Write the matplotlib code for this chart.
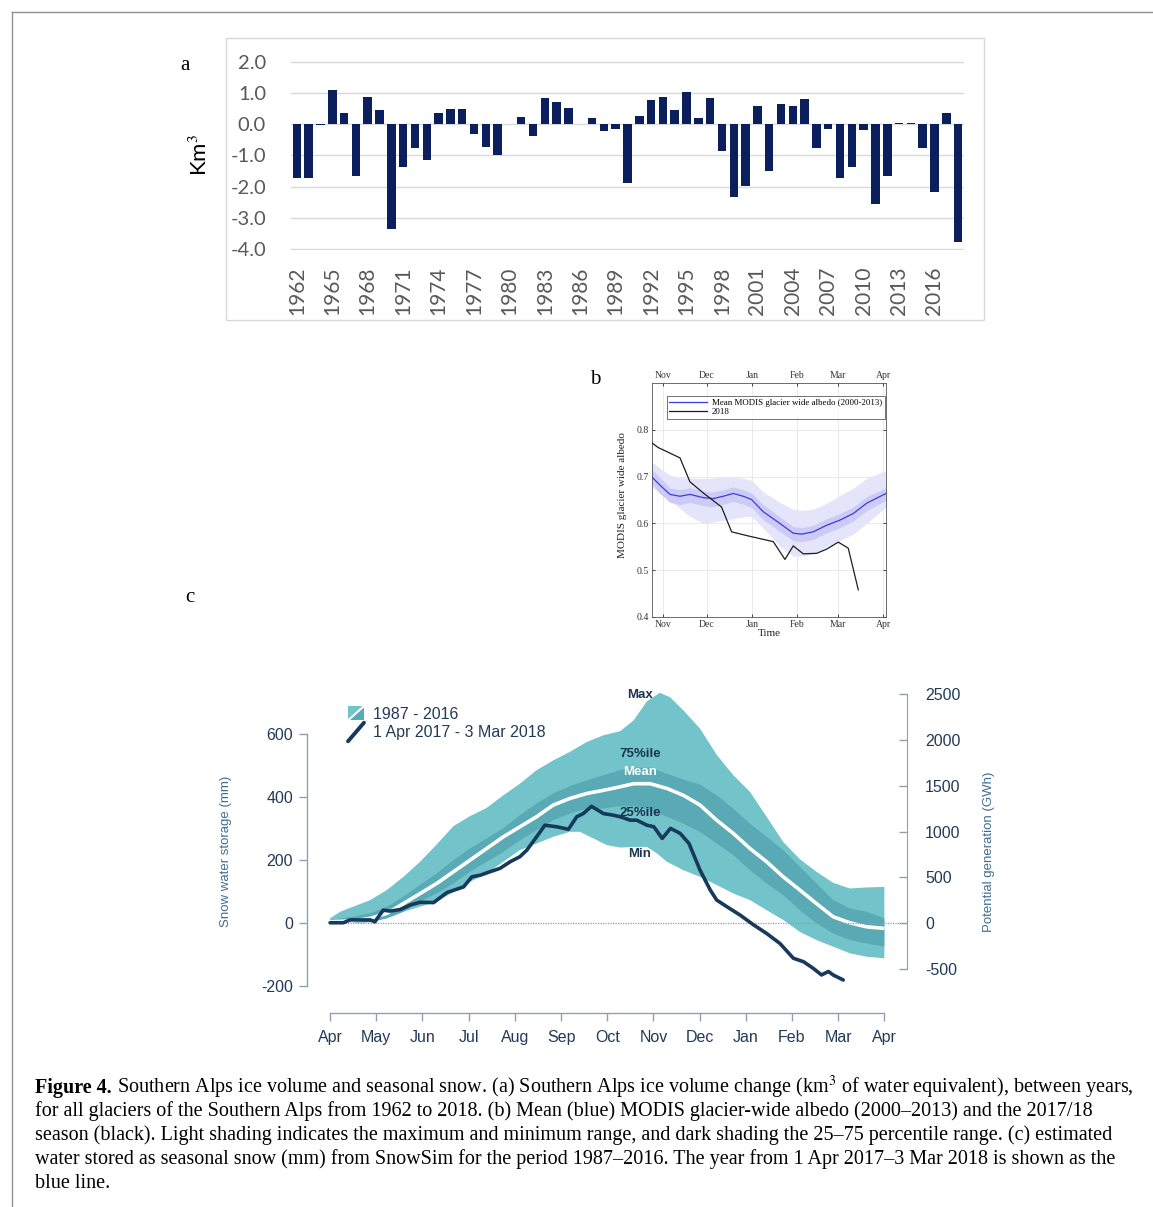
import numpy as np
import matplotlib
matplotlib.use('Agg')
import matplotlib.pyplot as plt
from matplotlib.patches import Rectangle, Polygon
from matplotlib.lines import Line2D
from matplotlib.legend_handler import HandlerBase

plt.rcParams['axes.unicode_minus'] = False
plt.rcParams['mathtext.fontset'] = 'stix'

# ---------------- Panel a data ----------------
years = list(range(1962, 2019))
ice_change = [
    -1.73, -1.73, -0.03, 1.10, 0.36, -1.65, 0.87, 0.44, -3.35, -1.36,
    -0.77, -1.14, 0.35, 0.50, 0.50, -0.32, -0.72, -0.98, 0.01, 0.24,
    -0.39, 0.83, 0.71, 0.52, 0.02, 0.20, -0.22, -0.14, -1.88, 0.25,
    0.77, 0.87, 0.45, 1.04, 0.20, 0.84, -0.85, -2.34, -1.99, 0.59,
    -1.51, 0.64, 0.59, 0.80, -0.77, -0.16, -1.73, -1.36, -0.18, -2.55,
    -1.66, 0.05, 0.05, -0.77, -2.18, 0.35, -3.78]
a_yticks = [2.0, 1.0, 0.0, -1.0, -2.0, -3.0, -4.0]

# ---------------- Panel b data (days from 1 Nov) ----------------
b_months = ['Nov', 'Dec', 'Jan', 'Feb', 'Mar', 'Apr']
b_month_days = [0, 30, 61, 92, 120, 151]
b_days = [-7.5, -2.1, 4.8, 11.7, 18.5, 27.7, 34.5, 41.4, 48.2, 55.1, 60.8,
          68.8, 80.2, 89.4, 95.1, 103.1, 112.3, 121.4, 130.5, 139.7, 153]
b_mean = [0.699, 0.682, 0.662, 0.658, 0.662, 0.655, 0.653, 0.658, 0.664, 0.658, 0.651,
          0.625, 0.600, 0.579, 0.577, 0.582, 0.596, 0.607, 0.621, 0.643, 0.664]
b_q75 = [0.715, 0.698, 0.676, 0.672, 0.676, 0.669, 0.667, 0.672, 0.678, 0.672, 0.665,
         0.640, 0.614, 0.593, 0.591, 0.596, 0.610, 0.621, 0.635, 0.657, 0.676]
b_q25 = [0.684, 0.664, 0.645, 0.640, 0.645, 0.638, 0.636, 0.641, 0.647, 0.641, 0.634,
         0.608, 0.583, 0.563, 0.561, 0.566, 0.580, 0.591, 0.605, 0.627, 0.650]
b_max = [0.731, 0.718, 0.703, 0.698, 0.697, 0.696, 0.697, 0.699, 0.699, 0.696, 0.692,
         0.667, 0.645, 0.630, 0.628, 0.630, 0.643, 0.660, 0.675, 0.696, 0.713]
b_min = [0.678, 0.664, 0.650, 0.632, 0.615, 0.600, 0.603, 0.607, 0.610, 0.614, 0.615,
         0.590, 0.552, 0.530, 0.530, 0.535, 0.550, 0.563, 0.577, 0.600, 0.635]
b18_days = [-7.5, -3.2, 11.7, 18.5, 27.7, 40.2, 47.1, 57.4, 75.7, 83.7, 89.4,
            96.2, 105.4, 112.3, 120.3, 127.1, 134.0]
b18_albedo = [0.772, 0.762, 0.740, 0.689, 0.665, 0.635, 0.582, 0.574, 0.561, 0.523, 0.552,
              0.535, 0.536, 0.545, 0.560, 0.547, 0.458]

# ---------------- Panel c data (months from 1 Apr, mm) ----------------
c_months = ['Apr', 'May', 'Jun', 'Jul', 'Aug', 'Sep', 'Oct', 'Nov', 'Dec',
            'Jan', 'Feb', 'Mar', 'Apr']
max_x = [0, 0.22, 0.5, 0.87, 1.23, 1.59, 1.95, 2.31, 2.67, 3.03, 3.39, 3.75, 4.11,
         4.47, 4.83, 5.19, 5.56, 5.92, 6.28, 6.57, 6.86, 7.14, 7.36, 7.65, 8.01,
         8.37, 8.73, 9.09, 9.45, 9.81, 10.17, 10.53, 10.89, 11.25, 11.61, 12.0]
max_y = [15, 36, 52, 73, 105, 147, 195, 250, 308, 340, 366, 406, 443, 486, 517,
         544, 576, 597, 610, 644, 705, 732, 718, 676, 618, 535, 470, 417, 338,
         258, 203, 163, 128, 110, 113, 115]
min_x = [0, 0.5, 0.87, 1.23, 1.59, 1.95, 2.31, 2.67, 3.03, 3.39, 3.75, 4.11, 4.47,
         4.83, 5.19, 5.41, 5.70, 5.99, 6.28, 6.57, 6.86, 7.08, 7.29, 7.65, 8.01,
         8.37, 8.73, 9.09, 9.45, 9.81, 10.17, 10.53, 10.89, 11.25, 11.61, 12.0]
min_y = [7, 1, 2, 15, 36, 52, 68, 99, 131, 158, 195, 232, 253, 274, 290, 290, 269,
         248, 240, 242, 242, 221, 195, 168, 147, 121, 94, 73, 41, 10, -28, -54,
         -75, -96, -107, -112]
q75_x = [0, 0.5, 0.87, 1.23, 1.59, 1.95, 2.31, 2.67, 3.03, 3.39, 3.75, 4.11, 4.47,
         4.83, 5.19, 5.56, 5.92, 6.28, 6.57, 6.93, 7.29, 7.65, 8.01, 8.37, 8.73,
         9.09, 9.45, 9.81, 10.17, 10.53, 10.89, 11.25, 11.61, 12.0]
q75_y = [10, 20, 31, 52, 84, 121, 158, 200, 237, 269, 301, 343, 380, 412, 435, 454,
         470, 486, 494, 494, 475, 456, 440, 406, 364, 316, 274, 232, 179, 126, 73,
         47, 36, 15]
mean_x = [0, 0.5, 0.87, 1.23, 1.59, 1.95, 2.31, 2.67, 3.03, 3.39, 3.75, 4.11, 4.47,
          4.83, 5.19, 5.56, 5.92, 6.21, 6.57, 6.93, 7.29, 7.65, 8.01, 8.37, 8.73,
          9.09, 9.45, 9.81, 10.17, 10.53, 10.89, 11.25, 11.61, 12.0]
mean_y = [4, 7, 15, 31, 62, 94, 126, 163, 200, 237, 274, 306, 338, 375, 396, 412,
          422, 431, 443, 443, 428, 406, 375, 327, 285, 237, 195, 147, 105, 62, 20,
          1, -12, -17]
q25_x = mean_x
q25_y = [0, 1, 4, 15, 36, 68, 94, 126, 163, 195, 226, 263, 295, 327, 348, 364, 364,
         371, 371, 359, 338, 316, 290, 253, 216, 168, 126, 89, 41, -1, -33, -54,
         -65, -75]
obs_x = [0, 0.29, 0.43, 0.87, 0.97, 1.15, 1.30, 1.52, 1.73, 1.95, 2.24, 2.53, 2.89,
         3.07, 3.25, 3.46, 3.68, 3.90, 4.11, 4.26, 4.47, 4.65, 4.91, 5.16, 5.34,
         5.48, 5.66, 5.92, 6.13, 6.28, 6.50, 6.64, 6.86, 7.01, 7.19, 7.37, 7.58,
         7.77, 8.01, 8.23, 8.37, 8.59, 8.88, 9.17, 9.45, 9.74, 10.03, 10.25, 10.46,
         10.64, 10.79, 10.89, 11.11]
obs_y = [1, 1, 10, 10, 4, 41, 38, 43, 57, 66, 65, 97, 115, 147, 152, 163, 174, 195,
         211, 232, 274, 311, 306, 298, 338, 348, 371, 348, 343, 338, 327, 327, 311,
         306, 269, 301, 285, 253, 168, 105, 73, 52, 25, -6, -33, -65, -112, -123,
         -144, -165, -154, -165, -181]
c_left_ticks = [600, 400, 200, 0, -200]
c_right_ticks = [2500, 2000, 1500, 1000, 500, 0, -500]
gwh_per_mm = 3.436
band_labels = ['Max', '75%ile', 'Mean', '25%ile', 'Min']
band_label_y = [724, 537, 479, 349, 219]

caption_lines = [
    " Southern Alps ice volume and seasonal snow. (a) Southern Alps ice volume change (km$^3$ of water equivalent), between years,",
    "for all glaciers of the Southern Alps from 1962 to 2018. (b) Mean (blue) MODIS glacier-wide albedo (2000\u20132013) and the 2017/18",
    "season (black). Light shading indicates the maximum and minimum range, and dark shading the 25\u201375 percentile range. (c) estimated",
    "water stored as seasonal snow (mm) from SnowSim for the period 1987\u20132016. The year from 1 Apr 2017\u20133 Mar 2018 is shown as the",
    "blue line.",
]

# ---------------- figure ----------------
W, H = 1153, 1207
fig = plt.figure(figsize=(W / 100, H / 100), dpi=100)


def fx(px):
    return px / W


def fy(py):
    return 1 - py / H


fig.add_artist(Line2D([fx(12), 1], [fy(12), fy(12)], color='#8f8f8f', lw=1))
fig.add_artist(Line2D([fx(12), fx(12)], [fy(12), 0], color='#8f8f8f', lw=1))

# ---------------- Panel a ----------------
fig.add_artist(Rectangle((fx(226), fy(320)), fx(984) - fx(226), fy(38) - fy(320),
                         fill=False, edgecolor='#d9d9d9', lw=1))
axa = fig.add_axes([fx(291), fy(250), fx(964) - fx(291), fy(61) - fy(250)])
idx = np.arange(len(years))
axa.bar(idx, ice_change, width=0.72, color='#0b1f5c', zorder=3)
axa.set_xlim(-0.5, len(years) - 0.5)
axa.set_ylim(-4.02, 2.02)
axa.set_yticks(a_yticks)
axa.set_yticklabels([f'{v:.1f}' for v in a_yticks])
axa.grid(axis='y', color='#d9d9d9', lw=1, zorder=0)
for s in axa.spines.values():
    s.set_visible(False)
label_idx = idx[::3]
axa.set_xticks(label_idx)
axa.set_xticklabels([str(years[i]) for i in label_idx], rotation=90)
for lab in axa.get_xticklabels() + axa.get_yticklabels():
    lab.set_family('Lato')
axa.tick_params(length=0, labelcolor='#595959')
axa.tick_params(axis='y', pad=18, labelsize=14.5)
axa.tick_params(axis='x', pad=12, labelsize=15)
fig.text(fx(200), fy(155), 'Km$^3$', rotation=90, ha='center', va='center',
         fontsize=16, family='Lato', color='black')
fig.text(fx(185), fy(66), 'a', ha='center', va='center', fontsize=15,
         family='Liberation Serif')

# ---------------- Panel b ----------------
serif = 'Liberation Serif'
axb = fig.add_axes([fx(652), fy(617), fx(886) - fx(652), fy(383) - fy(617)])
axb.fill_between(b_days, b_min, b_max, color='#e4e4fb', lw=0, zorder=1)
axb.fill_between(b_days, b_q25, b_q75, color='#cbcbf6', lw=0, zorder=2)
axb.plot(b_days, b_mean, color='#3b3be0', lw=0.9, zorder=3,
         label='Mean MODIS glacier wide albedo (2000-2013)')
axb.plot(b18_days, b18_albedo, color='#1e1e1e', lw=0.9, zorder=4, label='2018')
axb.set_xlim(-7.5, 153)
axb.set_ylim(0.4, 0.9)
axb.set_xticks(b_month_days)
axb.set_xticklabels(b_months)
axb.set_yticks([0.4, 0.5, 0.6, 0.7, 0.8])
axb.set_yticklabels(['0.4', '0.5', '0.6', '0.7', '0.8'])
axb.grid(color='#e6e6e6', lw=0.6, zorder=0)
axb.set_axisbelow(True)
axb.tick_params(direction='in', length=2, width=0.5, top=True, right=True,
                labeltop=True, labelsize=7, labelcolor='#333333', pad=2)
for lab in axb.get_xticklabels() + axb.get_yticklabels():
    lab.set_family(serif)
for t in axb.xaxis.get_major_ticks():
    t.label2.set_family(serif)
    t.label2.set_fontsize(7)
for s in axb.spines.values():
    s.set_linewidth(0.6)
    s.set_color('#555555')
axb.set_ylabel('MODIS glacier wide albedo', fontsize=8, family=serif, color='#222222')
axb.yaxis.set_label_coords(-0.105, 0.52)
axb.set_xlabel('Time', fontsize=8, family=serif, color='#222222', labelpad=0)
leg_b = axb.legend(loc='upper left', bbox_to_anchor=(0.043, 0.962),
                   frameon=True, fancybox=False, edgecolor='#333333',
                   borderpad=0.3, handlelength=4.2, labelspacing=0.1,
                   handletextpad=0.6, prop={'family': serif, 'size': 6.4})
leg_b.get_frame().set_linewidth(0.6)
fig.text(fx(595), fy(380), 'b', ha='center', va='center', fontsize=15, family=serif)
fig.text(fx(190), fy(597), 'c', ha='center', va='center', fontsize=15, family=serif)

# ---------------- Panel c ----------------
sans = 'Liberation Sans'
light = '#72c4ca'
dark = '#5aaab5'
navy = '#173a5c'
tickc = '#223a58'
spinec = '#8fa0b3'

axc = fig.add_axes([fx(307), fy(1013), fx(907) - fx(307), fy(684) - fy(1013)])
axc.fill(np.concatenate([max_x, min_x[::-1]]), np.concatenate([max_y, min_y[::-1]]),
         color=light, lw=0, zorder=1)
axc.fill(np.concatenate([q75_x, q25_x[::-1]]), np.concatenate([q75_y, q25_y[::-1]]),
         color=dark, lw=0, zorder=2)
axc.plot(mean_x, mean_y, color='white', lw=2.6, zorder=3, solid_capstyle='butt')
axc.axhline(0, xmin=0.5 / 12.99, xmax=1, color='#9a9a9a', lw=0.9, ls=(0, (1, 1)),
            zorder=4)
axc.plot(obs_x, obs_y, color=navy, lw=2.6, zorder=5, solid_capstyle='round')
axc.set_xlim(-0.5, 12.49)
axc.set_ylim(-286, 760)
for nm, yv in zip(band_labels, band_label_y):
    axc.text(6.71, yv, nm, ha='center', va='center', fontsize=9.5, fontweight='bold',
             family=sans, color='white' if nm == 'Mean' else '#1c3552', zorder=6)

axc.spines['top'].set_visible(False)
axc.spines['right'].set_visible(False)
axc.spines['left'].set_bounds(-200, 600)
axc.spines['bottom'].set_bounds(0, 12)
for s in ('left', 'bottom'):
    axc.spines[s].set_color(spinec)
    axc.spines[s].set_linewidth(1.0)
axc.set_yticks(c_left_ticks)
axc.set_yticklabels([str(v) for v in c_left_ticks])
axc.set_xticks(range(13))
axc.set_xticklabels(c_months)
axc.tick_params(axis='both', color=spinec, length=6, width=1.0, labelsize=11.5,
                labelcolor=tickc)
axc.tick_params(axis='y', pad=4)
axc.tick_params(axis='x', pad=6)
for lab in axc.get_xticklabels() + axc.get_yticklabels():
    lab.set_family(sans)
axc.set_ylabel('Snow water storage (mm)', fontsize=9.5, family=sans, color='#3f6d92')
axc.yaxis.set_label_coords(-0.125, 0.49)

axc2 = axc.twinx()
axc2.set_ylim(np.array(axc.get_ylim()) * gwh_per_mm)
for s in ('top', 'left', 'bottom'):
    axc2.spines[s].set_visible(False)
axc2.spines['right'].set_bounds(-500, 2500)
axc2.spines['right'].set_color(spinec)
axc2.set_yticks(c_right_ticks)
axc2.set_yticklabels([str(v) for v in c_right_ticks])
axc2.tick_params(axis='y', direction='in', color=spinec, length=6, width=1.0,
                 labelsize=11.5, labelcolor=tickc, pad=13)
for lab in axc2.get_yticklabels():
    lab.set_family(sans)
axc2.set_ylabel('Potential generation (GWh)', fontsize=9.5, family=sans, color='#3f6d92')
axc2.yaxis.set_label_coords(1.127, 0.49)


class SplitHandler(HandlerBase):
    def create_artists(self, legend, orig_handle, xd, yd, w, h, fontsize, trans):
        x0, y0 = -xd, -yd
        p1 = Polygon([[x0, y0], [x0, y0 + h], [x0 + w, y0 + h]], closed=True,
                     facecolor=light, edgecolor='none', transform=trans)
        p2 = Polygon([[x0, y0], [x0 + w, y0], [x0 + w, y0 + h]], closed=True,
                     facecolor=dark, edgecolor='none', transform=trans)
        ln = Line2D([x0, x0 + w], [y0, y0 + h], color='white', lw=1.5, transform=trans)
        return [p1, p2, ln]


class DiagHandler(HandlerBase):
    def create_artists(self, legend, orig_handle, xd, yd, w, h, fontsize, trans):
        x0, y0 = -xd, -yd
        ln = Line2D([x0, x0 + w], [y0 - 0.2 * h, y0 + 1.1 * h], color=navy, lw=2.8,
                    solid_capstyle='round', transform=trans)
        return [ln]


h_band = Rectangle((0, 0), 1, 1)
h_obs = Line2D([], [])
leg_c = axc.legend([h_band, h_obs], ['1987 - 2016', '1 Apr 2017 - 3 Mar 2018'],
                   handler_map={Rectangle: SplitHandler(), Line2D: DiagHandler()},
                   loc='upper left', bbox_to_anchor=(0.055, 0.957), frameon=False,
                   borderpad=0, handlelength=1.0, handleheight=1.0,
                   labelspacing=0.15, handletextpad=0.55,
                   prop={'family': sans, 'size': 11.5}, labelcolor=tickc)

# ---------------- caption ----------------
cap_size = 14.5
cap_y = [1093, 1116, 1140, 1164, 1188]
t0 = fig.text(fx(35), fy(cap_y[0]), 'Figure 4.', fontsize=cap_size, family=serif,
              fontweight='bold', va='baseline', ha='left')
fig.canvas.draw()
renderer = fig.canvas.get_renderer()
bb = t0.get_window_extent(renderer)
fig.text(bb.x1 / W, fy(cap_y[0]), caption_lines[0], fontsize=cap_size, family=serif,
         va='baseline', ha='left')
for line, yy in zip(caption_lines[1:], cap_y[1:]):
    fig.text(fx(35), fy(yy), line, fontsize=cap_size, family=serif, va='baseline',
             ha='left')

fig.savefig('out.png', dpi=100)
